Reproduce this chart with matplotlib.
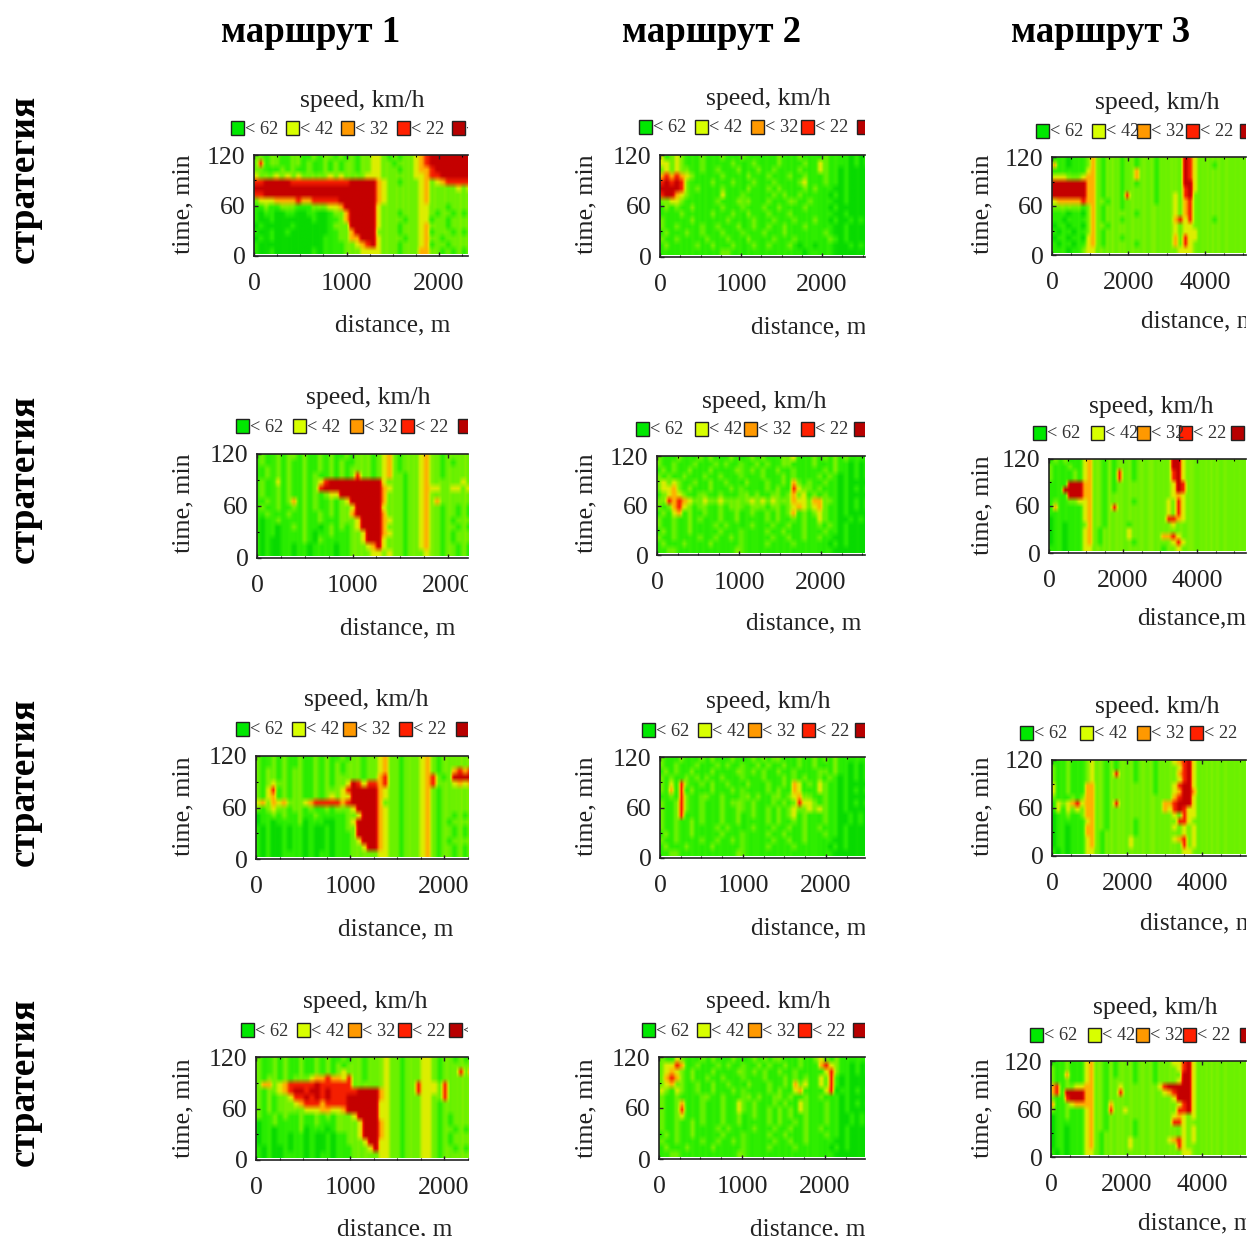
import numpy as np
import matplotlib
matplotlib.use('Agg')
import matplotlib.pyplot as plt
from matplotlib.colors import LinearSegmentedColormap
from matplotlib.patches import Rectangle
from matplotlib.ticker import MultipleLocator
from matplotlib.transforms import Affine2D, Bbox, TransformedBbox

plt.rcParams['font.family'] = ['Liberation Serif', 'DejaVu Serif']

W, H = 1249, 1236

# speed level per cell, top row = 120 min
# 0,1,2 greens  3 yellow  4 orange  5 red  6 dark red
grid_r1c1 = [
    "1221221122 1121221212 1223321212 2345666666",
    "1251221122 1211212122 1223322122 2345666666",
    "1221112121 1211212122 1223322212 2344566666",
    "2322232323 2222232322 2233322222 2334556666",
    "4556666655 5555555556 6666432212 2234234555",
    "6666666666 6666666666 6666432222 2234222223",
    "4556666666 6666666666 6666432222 2234222222",
    "2233344445 4455555666 6666432222 2234222222",
    "1112112221 1122233466 6666322222 2233222122",
    "0101100110 0110012246 6666322212 2233212212",
    "0100100000 0010011246 6666322221 2233122122",
    "0010000010 0000012226 6666322212 2234222122",
    "0100100100 0000011224 6666222212 2234122212",
    "0010100000 0000111224 4666322221 2234221222",
    "0100000000 0000111122 3456322212 2234122122",
    "0100100000 0010111122 2333322212 2244221212",
]
grid_r1c2 = [
    "1312321112 1112111211 1111211121 1112111101",
    "1332321112 1111121112 1111211112 1132111101",
    "1232322112 1121112111 2112111121 1132110100",
    "3454543211 1112111121 1121112112 1112110100",
    "6565652111 1211121112 1112111123 1112110100",
    "6666652121 1112111121 1121211112 1211100100",
    "4566432111 1113111211 1112121121 1111010100",
    "1223321111 1121112221 1121112211 2111100100",
    "1121211211 1112111211 1211211112 1111010000",
    "1111121111 1211121121 1121112111 1111100100",
    "1211111211 1111211112 1112111211 1211010010",
    "1211211112 1121112112 1121121112 1111100100",
    "1121112112 1112111211 1211121111 1112100100",
    "1211211111 2111211121 1112111211 1111210100",
    "1121111121 1211121112 1121112101 1011100010",
    "1111111111 1112211111 1111111110 1111100000",
]
grid_r1c3 = [
    "1111011124 2122212212 2212222265 3222222222",
    "1411011124 2122212212 2212222265 3222122222",
    "1111111134 2122212242 2212222265 3222222222",
    "2333222344 2122212242 2212222265 3222222222",
    "6666666644 2122212212 2212222266 3222222222",
    "6666666644 2122212222 2212222256 3222222222",
    "6666666644 2122215222 2212223256 2222222222",
    "3344444544 2212212222 2212223245 2222222222",
    "1222222124 2122212222 2222223245 2222222222",
    "1111011024 2122222212 2222223245 2222222222",
    "1110111124 2122212222 2222224535 2222122222",
    "1011011024 2212222222 2222223233 2222222222",
    "1101101124 2122222222 2222223233 3222222222",
    "1011011034 2122212222 2222224253 3222222222",
    "1101101134 2122222212 2222224253 2222222222",
    "1111011233 2222222222 2222222333 2222222222",
]
grid_r2c1 = [
    "1211212212 1121211212 2212342122 2342212222",
    "1211212112 1121212112 2212342122 2342212122",
    "1121212112 1121212122 2212342122 2342212222",
    "1121212112 1211212125 2212342212 2342212222",
    "1211312112 1235666666 6666322212 2342222223",
    "1211212112 1256666666 6666432212 2343322332",
    "1211212112 1212336666 6666422212 2342222222",
    "1121212412 1211212366 6666422212 2342422222",
    "1211211212 1211212236 6666322212 2342212212",
    "1121112112 1121212246 6666422212 2342212212",
    "1011211112 1121112223 6666432212 2342212122",
    "1011011212 1101212123 6666422212 2342212212",
    "1011011112 1011211122 3666432212 2342212122",
    "1010011112 1021111122 3666322212 2342212122",
    "1010011011 0111101122 2346322212 2342212212",
    "1010011011 0111101122 2233232212 2232212212",
]
grid_r2c2 = [
    "1211121112 1211121112 1211122311 1212121211",
    "1211211121 1121211211 2121122111 1211121101",
    "1121211211 1211112212 1211211211 1112121101",
    "1212112111 2112111211 1211121211 1121210101",
    "1232321121 1211211121 1121121421 2112110100",
    "1233421211 1211121211 1121211532 2121110101",
    "2123432112 2112111221 2112212423 1212110100",
    "2225454322 3223222223 2323222433 2442210101",
    "1212453212 2112122212 2212212343 2342110101",
    "1121341211 2112112112 1121212412 1232110100",
    "1211211212 1112112111 1121211212 1132110010",
    "1211211211 1121211112 1112112112 1121210100",
    "1121211211 1112111211 1121121112 1112110100",
    "1211211112 1121121211 1112112112 1121100100",
    "1121112111 1211111211 1121111211 1111010100",
    "1112211111 1111112211 1111111111 1111100000",
]
grid_r2c3 = [
    "1121211134 2212122212 2222226632 2222222222",
    "1211121134 2212122212 2222226632 2222222222",
    "1211112134 2212152212 2222225632 2222222222",
    "1211112134 2212152212 2222225632 2222222222",
    "1111166644 2212122222 2222223652 2222222222",
    "1111666644 2212122222 2222223652 2222222222",
    "1111166644 2212222222 2222223432 2222222222",
    "1121122334 2212222212 2222232532 2222222222",
    "1141111134 2212522222 2222232532 2222222222",
    "1111111134 2212222222 2222232532 2222222222",
    "1011111134 2212222222 2222255432 2222222222",
    "1011011124 2212222122 2222223222 2222222222",
    "1011011134 2122222322 2222222222 2222222222",
    "1011011134 2122222322 2222445322 2222222222",
    "1011011134 2122222212 2222223532 2222222222",
    "1111011133 2222222222 2222122322 2222222222",
]
grid_r3c1 = [
    "1211212112 1121211212 2122342212 2234212222",
    "1211212112 1121212122 2122342212 2234212222",
    "1212212122 1121212122 2122342212 2234212245",
    "1212212122 1121212222 2122452212 2234521266",
    "1212322122 1121212236 5355452212 2234522234",
    "1213512122 1121222356 6666432212 2234212222",
    "1213412122 1121232336 6666432212 2234212222",
    "2342434222 3455555456 6666422212 2234212222",
    "1212322122 1211212223 6666432212 2234212222",
    "1011212112 1121111122 3666432212 2234212212",
    "1011011112 0111001123 6666432212 2234212122",
    "0101001011 0100101122 6666432212 2234212212",
    "0101001011 0100101112 6666432212 2234212212",
    "0101001011 0100101112 3666432212 2234212122",
    "0101001011 0100101112 2366432212 2234212212",
    "0101001111 0101101112 2222332212 2234212212",
]
grid_r3c2 = [
    "1211121112 1211121112 1212211121 1212121111",
    "1211211121 1121211211 2121121121 1211121101",
    "1121211211 1211112212 1211211211 1122121101",
    "1212112121 2112111211 1211121212 1121210101",
    "1213152112 1211211121 1121121431 2132110100",
    "1214151211 1211121211 1121211431 1132110101",
    "2112152112 2112111221 2112212342 2112110100",
    "1211252112 1112122212 1112121253 3212110101",
    "1211252112 1112112212 1121212322 3232110100",
    "1211251112 1112112112 1121212312 1112110010",
    "1211211212 1112112111 1121211212 1112110010",
    "1211211211 1121211112 1112112112 1121110100",
    "1121211211 1112111211 1121121112 1112110100",
    "1211211112 1121121211 1112112112 1111100100",
    "1121112111 1211111211 1121111211 1111010100",
    "1112211111 1111112211 1111111111 1111100000",
]
grid_r3c3 = [
    "1111211123 2212122212 2212223456 3222222222",
    "1211211123 2212122212 2212222356 3222222222",
    "1211211123 2212522212 2212222456 3222222222",
    "1211211123 2212222212 2212222356 3222222222",
    "1311211144 2212222222 2212223566 3222222222",
    "1311211144 2212222222 2212223466 4222222222",
    "1211121244 2212222222 2222224566 3222222222",
    "1132345344 2212522222 2222445666 3222222222",
    "1131323244 2212222222 2222435653 3222222222",
    "1011211244 2212222222 2222223253 3222222222",
    "1011111134 2212222212 2222222553 2222222222",
    "1011011144 2212222212 2222223232 3222222222",
    "1011011144 2122222212 2222222232 3222222222",
    "1011011134 2122222322 2222223452 3222222222",
    "1011011134 2122222322 2222222252 3222222222",
    "1101011133 2122222222 2222222233 2222222222",
]
grid_r4c1 = [
    "1211212112 1121211212 2122232212 2233212212",
    "1211212112 1121212122 2122232212 2233212222",
    "1211212112 1121212322 2122232212 2233212225",
    "1212212122 2344544352 2122232212 2233212222",
    "1244234555 5565555552 2222232212 2533325222",
    "1212234566 5665655555 6666432212 2533325222",
    "1212122355 6565655566 6666432212 2233225222",
    "1212122234 5554555566 6666332212 2233212222",
    "1212122222 3334433466 6666332212 2233212222",
    "1211212112 1121212223 6666332212 2233212122",
    "1011211112 1121112222 3666432212 2233212122",
    "1011011112 0111012222 3666432212 2233212212",
    "1011011011 0100101122 3666432212 2233212122",
    "1011011011 0100101122 2366332212 2233212122",
    "0101001011 0100101112 2236332212 2233212212",
    "0101001111 0101101112 2222332212 2233212222",
]
grid_r4c2 = [
    "1211321112 1211121112 1212211121 1232121111",
    "1233541121 1121211211 2121121121 1145321101",
    "1234321211 1211112212 1211211211 1113521101",
    "2245421211 2112111211 1211121212 1132510100",
    "1234221121 1211211121 1121121423 1132510100",
    "1321321121 1211121211 1121211341 1113501101",
    "1211211112 2112111221 2112212112 1121110100",
    "1211241112 1112113212 1112121132 1112110101",
    "1211251112 1112113212 1121212132 1112110100",
    "1211231112 1112112112 1121212112 1112110010",
    "1211211212 1112112111 1121211212 1112110010",
    "1211211211 1121211112 1112112112 1121110100",
    "1121211211 1112111211 1121121112 1112110100",
    "1211211112 1121121211 1112112112 1111100100",
    "1121112111 1211111211 1121111211 1111010100",
    "1112211111 1111112211 1111111111 1111100000",
]
grid_r4c3 = [
    "1111211134 2212122212 2212223356 3222222222",
    "1211211134 2212122212 2212222356 3222222222",
    "1211411134 2212122212 2212222266 3222222222",
    "1211211134 2212222212 2212222366 3222222222",
    "1451223344 2212232222 2223566666 3222222222",
    "1451666644 2212252222 2222345666 3222222222",
    "1211566644 2212222222 2222223666 3222222222",
    "1411234444 2214222222 2222222356 3222222222",
    "1211211134 2215223222 2222222556 3222222222",
    "1011211134 2212222222 2222223432 3222222222",
    "1011111134 2212222212 2222225532 2222222222",
    "1011011134 2212222212 2222222232 3222222222",
    "1011011134 2122222212 2222222232 3222222222",
    "1011011134 2122222322 2222234532 3222222222",
    "1011011134 2122222322 2222222532 2222222222",
    "1101011133 2122222222 2222222233 2222222222",
]

grids = [grid_r1c1, grid_r1c2, grid_r1c3, grid_r2c1, grid_r2c2, grid_r2c3,
         grid_r3c1, grid_r3c2, grid_r3c3, grid_r4c1, grid_r4c2, grid_r4c3]

# thin vertical streaks seen along each route, 1 = no change
streaks_route1 = "1021102011 2101201102 1120210120 1102012101 2011201021 1201102110 2101120201 1021201120 1102101201 2011021102 1201120110 2101102012"
streaks_route2 = "2011021201 1020112012 0121102101 2010211021 1102012011 2100121021 1201021102 0112011201 2101102012 1021120110 0211021201 1012011021"
streaks_route3 = "1102011021 2011201102 1021021120 0112101201 2101120210 1021102011 2010212101 1102011202 1011201021 2110102012 0121021101 1201102011"
streaks = [streaks_route1, streaks_route2, streaks_route3]

routes = ['маршрут 1', 'маршрут 2', 'маршрут 3']
strategy = 'стратегия'
legend_labels = ['< 62', '< 42', '< 32', '< 22', '< 12']
legend_colors = ['#00e800', '#d8ff00', '#ff9900', '#ff2000', '#b80000']
speed_titles = ['speed, km/h'] * 12
speed_titles[8] = 'speed. km/h'
speed_titles[10] = 'speed. km/h'
dist_labels = ['distance, m'] * 12
dist_labels[5] = 'distance,m'
x_max = [2313, 2530, 5072, 2209, 2536, 5324, 2255, 2470, 5157, 2255, 2482, 5165]

# layout in image pixels
boxes = [(254, 155, 468, 256), (660, 155, 865, 257), (1052, 157, 1246, 255),
         (257, 454, 468, 558), (657, 456, 865, 555), (1049, 459, 1246, 553),
         (256, 756, 468, 859), (660, 757, 865, 858), (1052, 760, 1246, 856),
         (256, 1057, 468, 1160), (659, 1057, 865, 1159), (1051, 1061, 1246, 1157)]
# cells were read slightly to the right, how many cells to move them back
cell_shift = [1.2, 1.2, 1.0, 0.5, 1.2, 1.2, 1.2, 1.3, 1.2, 1.0, 1.0, 1.2]
title_xy = [(362, 100), (768, 98), (1157, 102), (368, 397), (764, 401), (1151, 406),
            (366, 699), (768, 701), (1157, 706), (365, 1001), (768, 1001), (1155, 1007)]
xlabel_xy = [(335, 323), (751, 325), (1141, 319), (340, 626), (746, 621), (1137, 616),
             (338, 927), (751, 926), (1140, 921), (337, 1227), (750, 1227), (1138, 1221)]
ylabel_x = [181, 584, 980] * 4
ylabel_y = [204, 204, 204, 503, 503, 505, 806, 806, 806, 1108, 1108, 1108]
swatch_x = [[231, 286, 341, 397, 452], [639, 695, 751, 801, 857], [1036, 1092, 1137, 1186, 1240],
            [236, 293, 350, 401, 458], [636, 695, 744, 801, 854], [1033, 1091, 1137, 1179, 1231],
            [236, 292, 343, 399, 456], [642, 698, 748, 802, 855], [1020, 1080, 1137, 1190],
            [241, 297, 348, 398, 449], [642, 697, 748, 798, 853], [1030, 1088, 1136, 1183, 1240]]
swatch_y = [128, 127, 131, 426, 429, 433, 729, 730, 733, 1030, 1030, 1035]

cmap = LinearSegmentedColormap.from_list(
    'speed', ['#08da00', '#2cee00', '#70f200', '#dcee00', '#ffb000', '#f52000', '#c40000'])

fig = plt.figure(figsize=(W / 100, H / 100), dpi=100, facecolor='white')
px = Affine2D().scale(1 / W, -1 / H).translate(0, 1) + fig.transFigure


def clip_to(artist, x1):
    artist.set_clip_on(True)
    artist.set_clip_box(TransformedBbox(Bbox([[0, 0], [x1, H]]), px))


for x, name in zip([311, 712, 1101], routes):
    fig.text(x, 33, name, transform=px, ha='center', va='center', fontsize=26.6, fontweight='bold')
for y in [179, 479, 782, 1082]:
    fig.text(24, y, strategy, transform=px, ha='center', va='center', rotation=90,
             fontsize=27, fontweight='bold')

for i, rows in enumerate(grids):
    x0, y0, x1, y1 = boxes[i]
    ax = fig.add_axes([x0 / W, 1 - y1 / H, (x1 - x0) / W, (y1 - y0) / H])
    levels = np.array([[int(c) for c in r.replace(' ', '')] for r in rows])
    # keep the right edge covered after the shift
    levels = np.hstack([levels, levels[:, -2:]])
    fine = np.repeat(levels, 3, axis=1).astype(float)
    streak = np.array([int(c) for c in streaks[i % 3].replace(' ', '')])
    streak = np.concatenate([streak, streak[:6]])
    fine = np.where(fine <= 2, fine + (streak - 1) * 0.3, fine)
    # the scan is soft, take the hard cell edges off
    padded = np.pad(fine, ((0, 0), (1, 1)), mode='edge')
    fine = (padded[:, :-2] + 2 * padded[:, 1:-1] + padded[:, 2:]) / 4
    w = x_max[i] / 40
    s = cell_shift[i]
    ax.imshow(fine, cmap=cmap, vmin=0, vmax=6, aspect='auto', interpolation='bilinear',
              extent=[-s * w, x_max[i] + (2 - s) * w, 2, 120])
    ax.set_xlim(0, x_max[i])
    ax.set_ylim(0, 120)
    ax.spines['right'].set_visible(False)
    for sp in ['left', 'top', 'bottom']:
        ax.spines[sp].set_linewidth(1.2)
        ax.spines[sp].set_color('#222222')

    step = 2000 if i % 3 == 2 else 1000
    ax.xaxis.set_major_locator(MultipleLocator(step))
    ax.xaxis.set_minor_locator(MultipleLocator(step / 4))
    ax.yaxis.set_major_locator(MultipleLocator(60))
    ax.yaxis.set_minor_locator(MultipleLocator(30))
    ax.tick_params(axis='x', which='major', direction='in', top=True, length=3, width=1,
                   pad=12, labelsize=18.5, colors='#222222')
    ax.tick_params(axis='y', which='major', direction='in', length=3, width=1,
                   pad=6, labelsize=18.5, colors='#222222')
    ax.tick_params(axis='x', which='minor', direction='in', top=True, length=1.5, width=0.8)
    ax.tick_params(axis='y', which='minor', direction='in', length=1.5, width=0.8)
    for lab in ax.get_xticklabels():
        clip_to(lab, x1)

    fig.text(title_xy[i][0], title_xy[i][1] + 1, speed_titles[i], transform=px, ha='center', va='center',
             fontsize=18.5, color='#222222')
    t = fig.text(xlabel_xy[i][0], xlabel_xy[i][1] + 2, dist_labels[i], transform=px, ha='left', va='center',
                 fontsize=18.3, color='#222222')
    clip_to(t, x1)
    fig.text(ylabel_x[i] + 2, ylabel_y[i], 'time, min', transform=px, ha='center', va='center',
             rotation=90, fontsize=18.7, color='#222222')

    for sx, lab, col in zip(swatch_x[i], legend_labels, legend_colors):
        r = Rectangle((sx, swatch_y[i] - 7), 13, 14, transform=px, facecolor=col,
                      edgecolor='#222222', linewidth=1)
        fig.add_artist(r)
        clip_to(r, x1)
        # the last label is cut off by the panel edge, only a sliver or nothing shows
        if sx + 14 < x1 - 1:
            t = fig.text(sx + 14, swatch_y[i] + 1, lab, transform=px, ha='left', va='center',
                         fontsize=13.2, color='#333333')
            clip_to(t, x1)

fig.savefig('out.png', dpi=100)
